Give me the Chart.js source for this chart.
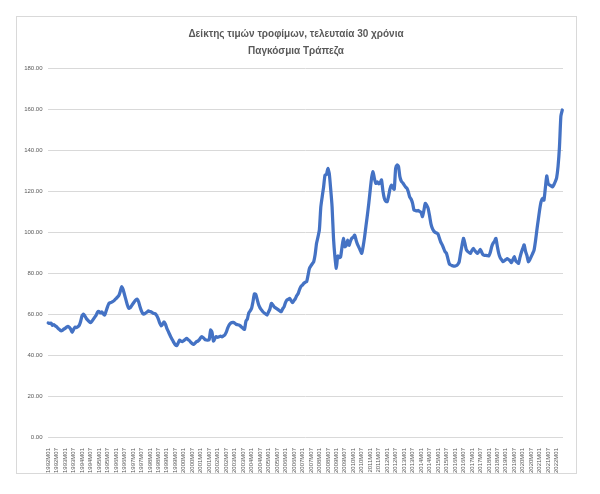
<!DOCTYPE html>
<html>
<head>
<meta charset="utf-8">
<script src="https://cdn.jsdelivr.net/npm/chart.js@4.4.1/dist/chart.umd.min.js"></script>
<style>
  html, body { margin: 0; padding: 0; background: #fff; }
  #wrap { position: relative; width: 600px; height: 494px; }
  #frame { position: absolute; left: 16px; top: 16px; width: 559px; height: 456px; border: 1px solid #d9d9d9; }
  #food-chart { position: absolute; left: 0; top: 0; }
</style>
</head>
<body>
<div id="wrap">
  <div id="frame"></div>
  <canvas id="food-chart" width="600" height="494"></canvas>
</div>
<script>
// Chart text
const titleLines = ['Δείκτης τιμών τροφίμων, τελευταία 30 χρόνια', 'Παγκόσμια Τράπεζα'];

// Monthly series, starts 1992M01
const firstYear = 1992;
const labelEvery = 6;

// y axis ticks
const yMin = 0;
const yMax = 180;
const yStep = 20;

// Food price index, one row per year (Jan..Dec)
const foodIndex = [
    55.6, 55.4, 55.6, 54.5, 54.8, 54.2, 53.8, 53.0, 52.4, 51.8, 52.0, 52.6,   // 1992
    53.0, 53.6, 54.0, 53.5, 52.5, 51.0, 52.5, 53.6, 53.4, 53.8, 54.5, 56.5,   // 1993
    59.2, 60.0, 59.0, 57.8, 57.0, 56.3, 55.8, 56.5, 57.5, 58.5, 59.5, 61.0,   // 1994
    61.2, 60.5, 61.0, 60.0, 59.5, 61.5, 63.5, 65.2, 65.5, 65.8, 66.2, 66.8,   // 1995
    67.5, 68.2, 69.0, 71.0, 73.3, 72.0, 69.5, 67.0, 64.5, 62.8, 63.0, 64.0,   // 1996
    65.0, 66.0, 66.8, 67.2, 66.0, 63.5, 61.5, 60.2, 60.0, 60.5, 61.0, 61.5,   // 1997
    61.2, 61.0, 60.5, 60.2, 60.0, 59.0, 57.5, 55.5, 54.2, 55.0, 56.2, 55.0,   // 1998
    53.0, 51.5, 50.0, 48.5, 47.3, 46.0, 45.0, 44.6, 45.8, 47.3, 46.8, 46.5,   // 1999
    47.0, 47.6, 48.1, 47.5, 47.0, 46.2, 45.5, 45.2, 45.8, 46.5, 46.8, 47.5,   // 2000
    48.5, 48.9, 48.3, 47.5, 47.3, 47.2, 47.5, 52.2, 51.0, 46.8, 48.0, 49.0,   // 2001
    48.6, 48.9, 49.2, 48.9, 49.3, 49.8, 51.0, 53.0, 54.5, 55.4, 55.8, 55.9,   // 2002
    55.6, 55.0, 54.8, 54.6, 54.2, 53.5, 53.0, 52.5, 56.5, 57.5, 60.5, 61.5,   // 2003
    62.8, 66.0, 69.8, 69.5, 67.0, 64.5, 63.0, 62.0, 61.1, 60.5, 60.0, 59.5,   // 2004
    61.0, 62.5, 65.2, 64.5, 63.5, 63.0, 62.5, 62.0, 61.5, 61.1, 62.5, 63.5,   // 2005
    65.5, 66.8, 67.2, 67.6, 66.5, 65.5, 66.5, 67.5, 69.0, 70.0, 72.0, 73.5,   // 2006
    74.1, 75.0, 75.5, 75.8, 79.0, 82.3, 83.5, 84.5, 85.5, 89.0, 94.5, 97.5,   // 2007
    101.0, 112.0, 117.2, 122.0, 127.8, 128.0, 131.0, 128.5, 121.0, 112.3, 97.0, 88.0,   // 2008
    82.3, 88.3, 87.5, 87.8, 92.5, 96.9, 92.8, 93.5, 96.0, 93.5, 95.5, 97.0,   // 2009
    97.5, 98.5, 96.0, 94.0, 92.5, 91.0, 89.6, 93.0, 97.5, 103.0, 108.3, 114.0,   // 2010
    120.5, 126.5, 129.4, 126.0, 123.7, 124.5, 123.5, 124.0, 125.4, 120.0, 116.4, 115.0,   // 2011
    114.8, 117.5, 121.0, 122.9, 121.8, 120.8, 131.0, 132.7, 132.0, 127.0, 124.8, 124.0,   // 2012
    123.0, 122.0, 121.3, 119.5, 117.0, 116.0, 114.0, 110.7, 110.5, 110.3, 110.5, 110.0,   // 2013
    109.5, 107.5, 110.5, 114.0, 113.0, 111.5, 108.0, 104.0, 101.8, 100.5, 99.8, 99.5,   // 2014
    99.0, 97.0, 95.0, 93.7, 92.0, 90.4, 89.6, 87.0, 84.5, 83.9, 83.6, 83.4,   // 2015
    83.4, 83.6, 84.2, 85.5, 89.6, 93.5, 96.9, 94.5, 91.5, 90.5, 90.0, 89.6,   // 2016
    91.0, 92.0, 91.0, 90.2, 89.6, 90.5, 91.5, 90.0, 88.8, 88.6, 88.6, 88.5,   // 2017
    88.4, 90.0, 92.8, 94.5, 95.5, 96.9, 93.0, 89.6, 87.5, 86.5, 85.5, 86.0,   // 2018
    86.5, 87.0, 86.5, 86.0, 85.0, 86.5, 88.0, 86.0, 85.3, 84.7, 87.5, 90.0,   // 2019
    92.0, 93.7, 90.5, 88.4, 85.5, 86.5, 88.0, 89.5, 91.2, 95.5, 101.0, 106.0,   // 2020
    111.0, 114.8, 116.4, 115.5, 121.5, 127.3, 123.5, 122.9, 122.5, 122.0, 123.0, 124.5,   // 2021
    126.5, 132.0, 141.5, 156.5, 159.5   // 2022
];

// Category labels like 1992M01
const monthLabels = foodIndex.map((v, i) => {
    const year = firstYear + Math.floor(i / 12);
    const month = String(i % 12 + 1).padStart(2, '0');
    return `${year}M${month}`;
});

const greyText = '#595959';
const gridGrey = '#d9d9d9';

const ctx = document.getElementById('food-chart').getContext('2d');

new Chart(ctx, {
    type: 'line',
    data: {
        labels: monthLabels,
        datasets: [{
            label: 'Food index',
            data: foodIndex,
            borderColor: '#4472C4',
            borderWidth: 3.25,
            pointRadius: 0,
            tension: 0.2,
            borderJoinStyle: 'round',
            borderCapStyle: 'round',
            fill: false,
            yAxisID: 'y'
        }]
    },
    options: {
        responsive: false,
        animation: false,
        devicePixelRatio: 1,
        layout: { padding: { left: 0, right: 8, top: 0, bottom: 0 } },
        plugins: {
            legend: { display: false },
            tooltip: { enabled: false },
            title: {
                display: true,
                text: titleLines,
                color: greyText,
                font: { family: 'Liberation Sans', size: 10, weight: 'bold', lineHeight: 1.7 },
                padding: { top: 26, bottom: 8 }
            }
        },
        scales: {
            x: {
                offset: true,
                grid: { display: false },
                border: { display: false },
                ticks: {
                    autoSkip: false,
                    minRotation: 90,
                    maxRotation: 90,
                    padding: 3,
                    color: greyText,
                    font: { family: 'Liberation Sans', size: 6 },
                    callback: (val, i) => (i % labelEvery === 0 ? monthLabels[i] : '')
                },
                afterFit: (scale) => { scale.height = 57; }
            },
            y: {
                min: yMin,
                max: yMax,
                grid: { color: gridGrey, drawTicks: false },
                border: { display: false },
                ticks: {
                    stepSize: yStep,
                    padding: 5,
                    color: greyText,
                    font: { family: 'Liberation Sans', size: 6 },
                    callback: (v) => v.toFixed(2)
                },
                afterFit: (scale) => { scale.width = 47.5; }
            },
            // empty right-hand spacer so the title stays centred on the frame
            spacer: {
                type: 'linear',
                position: 'right',
                grid: { display: false },
                border: { display: false },
                ticks: { display: false },
                afterFit: (scale) => { scale.width = 29; }
            }
        }
    }
});
</script>
</body>
</html>
